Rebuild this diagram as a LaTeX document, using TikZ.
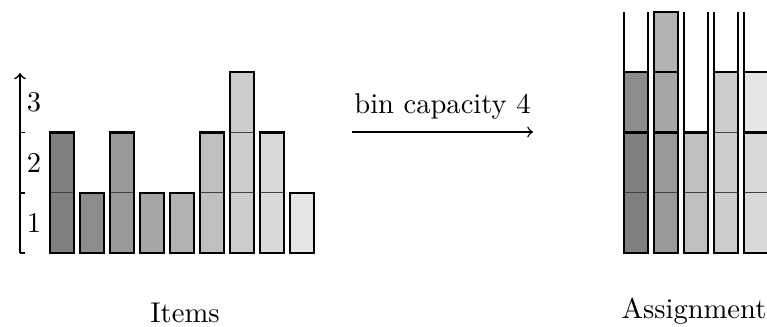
\documentclass[tikz,border=0pt]{standalone}
\usetikzlibrary{calc}
\begin{document}
\begin{tikzpicture}[x=0.35pt,y=-0.35pt,
  box/.style={draw=black, line width=0.8pt},
  divider/.style={draw=black!75, line width=0.4pt},
  wall/.style={draw=black, line width=0.6pt},
  axis/.style={draw=black, line width=0.6pt},
  tick/.style={draw=black, line width=0.6pt}]
\useasboundingbox (0,0) rectangle (767,327);
% one unit of item size in picture coordinates
\def\un{60.3}
\def\yb{253}
% \itembar{left x}{start unit}{size}{grey level}
\newcommand{\itembar}[4]{%
  \pgfmathsetmacro{\ylo}{\yb-(#2)*\un}%
  \pgfmathsetmacro{\yhi}{\yb-(#2+#3)*\un}%
  \fill[black!#4] (#1,\ylo) rectangle ({#1+24},\yhi);
  \foreach \k in {1,...,#3}{%
    \ifnum\k<#3
      \pgfmathsetmacro{\yd}{\yb-(#2+\k)*\un}%
      \draw[divider] (#1,\yd) -- ({#1+24},\yd);
    \fi}
  \draw[box] (#1,\ylo) rectangle ({#1+24},\yhi);
}
% bin walls: open at the top, four units high
\newcommand{\binwalls}[1]{%
  \draw[wall] (#1,\yb) -- (#1,{\yb-4*\un});
  \draw[wall] ({#1+24},\yb) -- ({#1+24},{\yb-4*\un});
}

% size axis
\coordinate (ax0) at (20,\yb);
\coordinate (ax3) at (20,73);
\draw[axis,->] (ax0) -- (ax3);
\foreach \i in {0,1,2}{
  \draw[tick] (20,{\yb-\i*\un}) -- (25,{\yb-\i*\un});
  \node (n\i) at (34,{\yb-(\i+0.5)*\un}) {\pgfmathparse{int(\i+1)}\pgfmathresult};
}

% items
\itembar{50}{0}{2}{50}
\itembar{80}{0}{1}{45}
\itembar{110}{0}{2}{40}
\itembar{140}{0}{1}{35}
\itembar{170}{0}{1}{30}
\itembar{200}{0}{2}{25}
\itembar{230}{0}{3}{20}
\itembar{260}{0}{2}{15}
\itembar{290}{0}{1}{10}
\node (items) at (185,313) {Items};

% arrow with capacity label
\coordinate (arrL) at (352,132);
\coordinate (arrR) at (533,132);
\draw[line width=0.5pt,->] (arrL) -- (arrR);
\node[above=1pt] (cap) at ($ (arrL)!0.5!(arrR) $) {bin capacity 4};

% bins and their assigned items
\foreach \bx in {624,654,684,714,744}{\binwalls{\bx}}
\itembar{624}{0}{2}{50}
\itembar{624}{2}{1}{45}
\itembar{654}{0}{2}{40}
\itembar{654}{2}{1}{35}
\itembar{654}{3}{1}{30}
\itembar{684}{0}{2}{25}
\itembar{714}{0}{3}{20}
\itembar{744}{0}{2}{15}
\itembar{744}{2}{1}{10}
\node (assign) at (694,311) {Assignment};
\end{tikzpicture}
\end{document}
